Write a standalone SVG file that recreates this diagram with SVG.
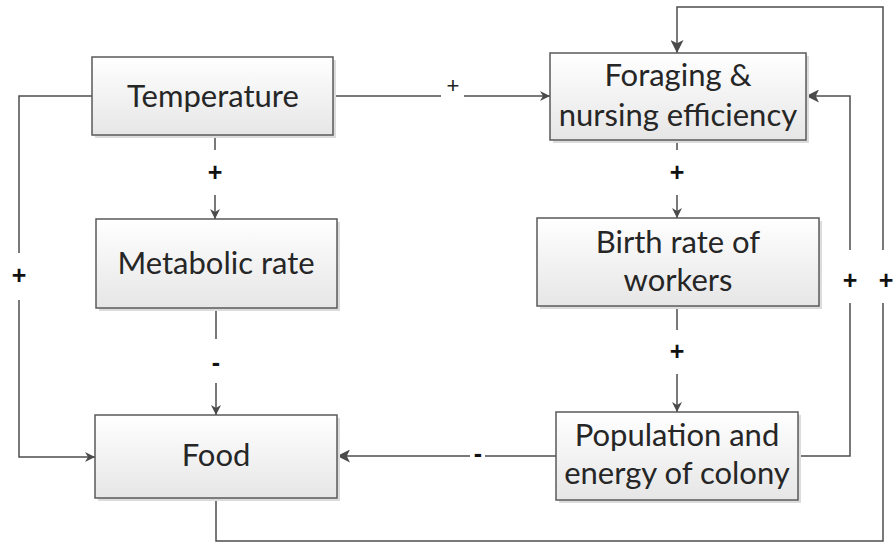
<svg xmlns="http://www.w3.org/2000/svg" width="896" height="544" viewBox="0 0 896 544">
<defs>
<linearGradient id="g" x1="0" y1="0" x2="0" y2="1">
<stop offset="0" stop-color="#ffffff"/>
<stop offset="1" stop-color="#e6e6e6"/>
</linearGradient>
<marker id="ar" viewBox="0 0 10 10" refX="10" refY="5" markerWidth="10" markerHeight="10" markerUnits="userSpaceOnUse" orient="auto">
<path d="M0,0 L10,5 L0,10 L3,5 Z" fill="#4a4a4a"/>
</marker>
<marker id="arB" viewBox="0 0 12 12" refX="12" refY="6" markerWidth="13" markerHeight="13" markerUnits="userSpaceOnUse" orient="auto">
<path d="M0,0 L12,6 L0,12 L3,6 Z" fill="#4a4a4a"/>
</marker>
</defs>
<style>
.box{fill:url(#g);stroke:#5a5a5a;stroke-width:1.5}
.sh{fill:#dcdcdc}
.t{font-family:Lato,"Open Sans",sans-serif;font-size:31px;fill:#262626;text-anchor:middle}
.c{fill:none;stroke:#4d4d4d;stroke-width:1.5}
.s{font-family:"Liberation Sans",Arial,sans-serif;font-weight:bold;font-size:25px;fill:#111;text-anchor:middle}
.sl{font-family:"Liberation Sans",Arial,sans-serif;font-size:22px;fill:#222;text-anchor:middle}
</style>
<rect width="896" height="544" fill="#fff"/>
<g id="connectors">
<path class="c" d="M92,96 H19 V253"/>
<path class="c" d="M19,300 V457 H95" marker-end="url(#ar)"/>
<path class="c" d="M333,96 H441"/>
<path class="c" d="M464,96 H550" marker-end="url(#ar)"/>
<path class="c" d="M215,135 V150"/>
<path class="c" d="M215,195 V219" marker-end="url(#ar)"/>
<path class="c" d="M216,308 V339"/>
<path class="c" d="M216,383 V415" marker-end="url(#ar)"/>
<path class="c" d="M677,140 V150"/>
<path class="c" d="M677,195 V218" marker-end="url(#ar)"/>
<path class="c" d="M677,306 V330"/>
<path class="c" d="M677,374 V412" marker-end="url(#ar)"/>
<path class="c" d="M556,456 H485"/>
<path class="c" d="M470,456 H337" marker-end="url(#arB)"/>
<path class="c" d="M798,456 H850 V303"/>
<path class="c" d="M850,250 V96 H806" marker-end="url(#arB)"/>
<path class="c" d="M216,498 V541 H883 V303"/>
<path class="c" d="M883,250 V7 H677 V53" marker-end="url(#arB)"/>
</g>
<g id="labels">
<text class="sl" x="453" y="93">+</text>
<text class="s" x="19" y="284">+</text>
<text class="s" x="215" y="181">+</text>
<text class="s" x="216" y="371">-</text>
<text class="s" x="677" y="181">+</text>
<text class="s" x="677" y="360">+</text>
<text class="s" x="478" y="462">-</text>
<text class="s" x="850" y="289">+</text>
<text class="s" x="886" y="289">+</text>
</g>
<g id="temperature">
<rect class="sh" x="95" y="60" width="241" height="78"/>
<rect class="box" x="92" y="57" width="241" height="78"/>
<text class="t" x="213" y="107">Temperature</text>
</g>
<g id="metabolic">
<rect class="sh" x="99" y="222" width="241" height="89"/>
<rect class="box" x="96" y="219" width="241" height="89"/>
<text class="t" x="216" y="274">Metabolic rate</text>
</g>
<g id="food">
<rect class="sh" x="98" y="418" width="242" height="83"/>
<rect class="box" x="95" y="415" width="242" height="83"/>
<text class="t" x="216" y="466">Food</text>
</g>
<g id="foraging">
<rect class="sh" x="553" y="56" width="256" height="87"/>
<rect class="box" x="550" y="53" width="256" height="87"/>
<text class="t" x="678" y="86">Foraging &amp;</text>
<text class="t" x="678" y="126">nursing efficiency</text>
</g>
<g id="birth">
<rect class="sh" x="540" y="221" width="282" height="88"/>
<rect class="box" x="537" y="218" width="282" height="88"/>
<text class="t" x="678" y="253">Birth rate of</text>
<text class="t" x="678" y="291">workers</text>
</g>
<g id="population">
<rect class="sh" x="559" y="415" width="242" height="88"/>
<rect class="box" x="556" y="412" width="242" height="88"/>
<text class="t" x="677" y="446">Population and</text>
<text class="t" x="677" y="484">energy of colony</text>
</g>
</svg>
